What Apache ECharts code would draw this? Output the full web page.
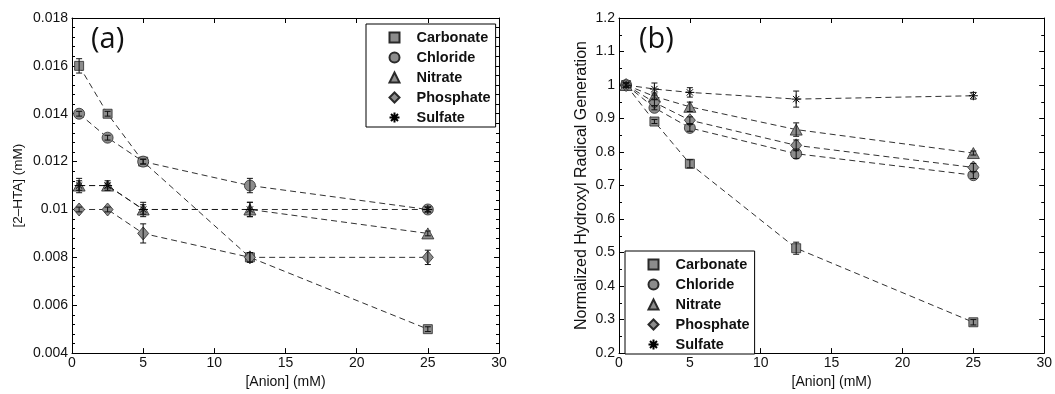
<!DOCTYPE html>
<html>
<head>
<meta charset="utf-8">
<script src="https://cdn.jsdelivr.net/npm/echarts@6/dist/echarts.min.js"></script>
<style>html,body{margin:0;padding:0;background:#fff}#c{width:1055px;height:394px}</style>
</head>
<body>
<div id="c"></div>
<script>
const anionConc = [0.5, 2.5, 5, 12.5, 25];
const seriesNames = ['Carbonate', 'Chloride', 'Nitrate', 'Phosphate', 'Sulfate'];
const xTicks = [0, 5, 10, 15, 20, 25, 30];
const htaTicks = [0.004, 0.006, 0.008, 0.01, 0.012, 0.014, 0.016, 0.018];
const normTicks = [0.2, 0.3, 0.4, 0.5, 0.6, 0.7, 0.8, 0.9, 1, 1.1, 1.2];

// Panel (a): [2-HTA] (mM)
const htaCarbonate = [0.016, 0.014, 0.012, 0.008, 0.005];
const htaChloride  = [0.014, 0.013, 0.012, 0.011, 0.010];
const htaNitrate   = [0.011, 0.011, 0.010, 0.010, 0.009];
const htaPhosphate = [0.010, 0.010, 0.009, 0.008, 0.008];
const htaSulfate   = [0.011, 0.011, 0.010, 0.010, 0.010];
const htaErrCarbonate = [0.0003, 0.0001, 0.0001, 0.0002, 0.0001];
const htaErrChloride  = [0.0001, 0.0001, 0.0001, 0.0003, 0.0001];
const htaErrNitrate   = [0.0003, 0.0002, 0.0003, 0.0003, 0.0001];
const htaErrPhosphate = [0.0001, 0.0001, 0.0004, 0.0002, 0.0003];
const htaErrSulfate   = [0.0002, 0.0001, 0.0002, 0.0003, 0.0001];

// Panel (b): normalized hydroxyl radical generation
const normCarbonate = [1.0, 0.891, 0.765, 0.513, 0.292];
const normChloride  = [1.0, 0.932, 0.872, 0.795, 0.731];
const normNitrate   = [1.0, 0.966, 0.935, 0.867, 0.797];
const normPhosphate = [1.0, 0.948, 0.895, 0.820, 0.754];
const normSulfate   = [1.0, 0.988, 0.978, 0.958, 0.968];
const normErrCarbonate = [0.006, 0.006, 0.012, 0.018, 0.008];
const normErrChloride  = [0.006, 0.006, 0.010, 0.014, 0.010];
const normErrNitrate   = [0.006, 0.010, 0.014, 0.020, 0.006];
const normErrPhosphate = [0.006, 0.010, 0.010, 0.016, 0.012];
const normErrSulfate   = [0.008, 0.018, 0.014, 0.024, 0.010];

const starPath = 'path://M5,0 L5,10 M0,5 L10,5 M1.5,1.5 L8.5,8.5 M1.5,8.5 L8.5,1.5';
const symbols = ['rect', 'circle', 'triangle', 'diamond', starPath];
const symSizes = [9, 11, [12, 11], [11, 13], 9];
const FONT = '"Liberation Sans", Arial, Helvetica, sans-serif';
const FILL = '#8c8c8c';

const panelA = [htaCarbonate, htaChloride, htaNitrate, htaPhosphate, htaSulfate];
const panelAErr = [htaErrCarbonate, htaErrChloride, htaErrNitrate, htaErrPhosphate, htaErrSulfate];
const panelB = [normCarbonate, normChloride, normNitrate, normPhosphate, normSulfate];
const panelBErr = [normErrCarbonate, normErrChloride, normErrNitrate, normErrPhosphate, normErrSulfate];

function errRender(params, api) {
  const x = api.value(0), y = api.value(1), e = api.value(2);
  const t = api.coord([x, y + e]);
  const b = api.coord([x, y - e]);
  const w = 3;
  const st = {stroke: '#111', lineWidth: 1};
  return {type: 'group', children: [
    {type: 'line', shape: {x1: t[0], y1: t[1], x2: b[0], y2: b[1]}, style: st},
    {type: 'line', shape: {x1: t[0] - w, y1: t[1], x2: t[0] + w, y2: t[1]}, style: st},
    {type: 'line', shape: {x1: b[0] - w, y1: b[1], x2: b[0] + w, y2: b[1]}, style: st}
  ]};
}

const series = [];
function addPanel(vals, errs, xi, yi) {
  vals.forEach((v, i) => {
    const isStar = i === 4;
    series.push({
      name: seriesNames[i], type: 'line', xAxisIndex: xi, yAxisIndex: yi,
      data: anionConc.map((x, k) => [x, v[k]]),
      symbol: symbols[i], symbolSize: symSizes[i], showSymbol: true,
      lineStyle: {color: '#1a1a1a', width: 0.9, type: [6, 4]},
      itemStyle: isStar ? {color: 'none', borderColor: '#000', borderWidth: 1}
                        : {color: FILL, borderColor: '#2a2a2a', borderWidth: 0.8},
      emphasis: {disabled: true}, animation: false, z: 3 + i
    });
  });
  errs.forEach((e, i) => {
    series.push({
      name: 'err-' + seriesNames[i] + '-' + xi, type: 'custom', xAxisIndex: xi, yAxisIndex: yi,
      data: anionConc.map((x, k) => [x, vals[i][k], e[k]]),
      renderItem: errRender, encode: {x: 0, y: 1}, z: 10, animation: false, silent: true
    });
  });
}
addPanel(panelA, panelAErr, 0, 0);
addPanel(panelB, panelBErr, 2, 2);

function xAxes(grid, top) {
  return {
    gridIndex: grid, type: 'value', min: xTicks[0], max: xTicks[xTicks.length - 1], interval: 5,
    position: top ? 'top' : 'bottom',
    name: top ? '' : '[Anion] (mM)', nameLocation: 'middle', nameGap: 19,
    nameTextStyle: {fontFamily: FONT, fontSize: 14, color: '#111'},
    axisLine: {show: true, onZero: false, lineStyle: {color: '#000', width: 1}},
    axisTick: {show: true, inside: true, length: 5, lineStyle: {color: '#000'}},
    axisLabel: {show: !top, fontFamily: FONT, fontSize: 14, color: '#111', margin: 3},
    splitLine: {show: false}
  };
}
function yAxes(grid, right, ticks, interval, minorSplit, name, nameSize, nameGap) {
  return {
    gridIndex: grid, type: 'value', min: ticks[0], max: ticks[ticks.length - 1], interval: interval,
    position: right ? 'right' : 'left',
    name: right ? '' : name, nameLocation: 'middle', nameGap: nameGap, nameRotate: 90,
    nameTextStyle: {fontFamily: FONT, fontSize: nameSize, color: '#111'},
    axisLine: {show: true, onZero: false, lineStyle: {color: '#000', width: 1}},
    axisTick: {show: true, inside: true, length: 5, lineStyle: {color: '#000'}},
    minorTick: {show: true, splitNumber: minorSplit, length: 3, lineStyle: {color: '#000'}},
    axisLabel: {show: !right, fontFamily: FONT, fontSize: 14, color: '#111', margin: 4},
    splitLine: {show: false}, minorSplitLine: {show: false}
  };
}

function legend(left, top) {
  return {
    orient: 'vertical', left: left, top: top,
    data: seriesNames.map((n, i) => ({name: n, icon: symbols[i]})),
    itemWidth: 10, itemHeight: 10, itemGap: 5,
    padding: [6, 5, 2, 21],
    borderColor: '#000', borderWidth: 1, backgroundColor: '#fff',
    selectedMode: false,
    textStyle: {fontFamily: FONT, fontSize: 14.5, fontWeight: 'bold', color: '#111', padding: [0, 0, 0, 12]}
  };
}

const option = {
  animation: false,
  backgroundColor: '#fff',
  title: [
    {text: '(a)', left: 86, top: 20, textStyle: {fontFamily: '"Open Sans", Lato, sans-serif', fontSize: 29, fontWeight: 'normal', color: '#111'}},
    {text: '(b)', left: 634, top: 20, textStyle: {fontFamily: '"Open Sans", Lato, sans-serif', fontSize: 29, fontWeight: 'normal', color: '#111'}}
  ],
  grid: [
    {left: 72, top: 18, width: 427, height: 338},
    {left: 619, top: 18, width: 427, height: 338}
  ],
  xAxis: [xAxes(0, false), xAxes(0, true), xAxes(1, false), xAxes(1, true)],
  yAxis: [
    yAxes(0, false, htaTicks, 0.002, 5, '[2\u2013HTA] (mM)', 13.5, 47),
    yAxes(0, true, htaTicks, 0.002, 5, '', 13, 0),
    yAxes(1, false, normTicks, 0.1, 2, 'Normalized Hydroxyl Radical Generation', 16, 29),
    yAxes(1, true, normTicks, 0.1, 2, '', 13, 0)
  ],
  legend: [legend(366, 24), legend(625, 251)],
  series: series
};
const chart = echarts.init(document.getElementById('c'), null, {renderer: 'canvas'});
chart.setOption(option);
</script>
</body>
</html>
